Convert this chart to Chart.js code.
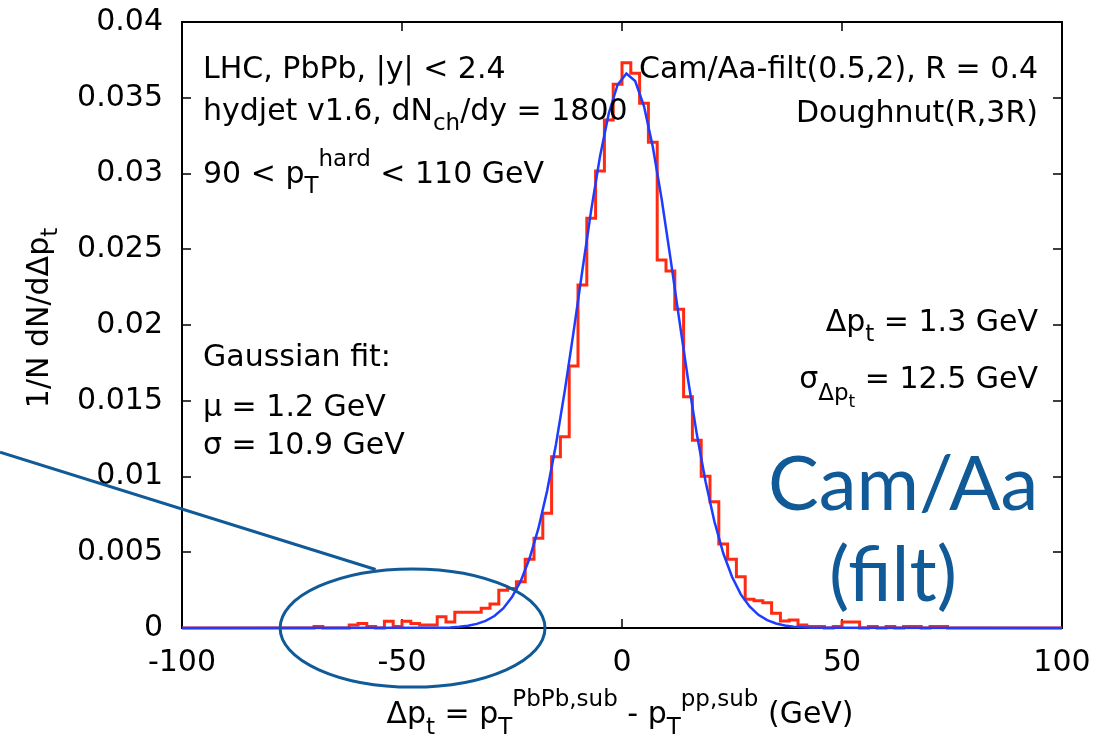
<!DOCTYPE html>
<html>
<head>
<meta charset="utf-8">
<title>Δp_t distribution</title>
<script src="https://cdn.jsdelivr.net/npm/chart.js@4/dist/chart.umd.min.js"></script>
<style>
  html, body { margin: 0; padding: 0; background: #fff; }
  #wrap { width: 1100px; height: 735px; position: relative; }
</style>
</head>
<body>
<div id="wrap"><canvas id="c"></canvas></div>
<script>
// histogram: 2 GeV bins from -100 to 100, normalised 1/N dN/dΔp_t
const binLow = -100;
const binWidth = 2;
const histValues = [
  0, 0, 0, 0, 0, 0, 0, 0, 0, 0,                                                   // -100 .. -80
  0, 0, 0, 0, 0, 0.0001, 0, 0, 0, 0.0002,                                         // -80 .. -60
  0.0003, 0.0001, 0, 0.00045, 0.0001, 0.00045, 0.0003, 0.0002, 0.0002, 0.00075,   // -60 .. -40
  0.0004, 0.00104, 0.00104, 0.00104, 0.0013, 0.00158, 0.0025, 0.0026, 0.00306, 0.00453, // -40 .. -20
  0.00592, 0.00757, 0.01131, 0.01263, 0.01729, 0.02264, 0.02704, 0.03017, 0.03353, 0.03589, // -20 .. 0
  0.03731, 0.03661, 0.03463, 0.03206, 0.02429, 0.02356, 0.02104, 0.01527, 0.01239, 0.01001, // 0 .. 20
  0.00834, 0.00554, 0.00453, 0.00339, 0.0019, 0.0018, 0.00167, 0.00097, 0.00046, 0.00053,   // 20 .. 40
  0.0002, 0.0001, 0.0001, 0, 0.0001, 0.0004, 0.0004, 0, 0.0001, 0,                // 40 .. 60
  0.0001, 0, 0.0001, 0.0001, 0, 0.0001, 0.0001, 0, 0, 0,                          // 60 .. 80
  0, 0, 0, 0, 0, 0, 0, 0, 0, 0                                                    // 80 .. 100
];

// gaussian fit curve, sampled points
const fitX = [-100, -43, -41, -39, -37, -35, -33, -31, -29, -27, -25, -23, -21, -19, -17, -15, -13, -11, -9, -7, -5, -3, -1,
  1, 3, 5, 7, 9, 11, 13, 15, 17, 19, 21, 23, 25, 27, 29, 31, 33, 35, 37, 39, 41, 43, 45, 100];
const fitY = [0, 0.00001, 0.00002, 0.00004, 0.00008, 0.00015, 0.00027, 0.00047, 0.00079, 0.00129, 0.00204, 0.00311, 0.0046,
  0.00657, 0.00908, 0.01213, 0.01567, 0.01956, 0.02362, 0.02758, 0.03113, 0.03398, 0.03586,
  0.0366, 0.0361, 0.03444, 0.03177, 0.02833, 0.02443, 0.02037, 0.01642, 0.0128, 0.00965, 0.00703, 0.00495,
  0.00338, 0.00222, 0.00142, 0.00087, 0.00052, 0.0003, 0.00017, 0.00009, 0.00005, 0.00002, 0.00001, 0];

const xTicks = [-100, -50, 0, 50, 100];
const yTicks = [0, 0.005, 0.01, 0.015, 0.02, 0.025, 0.03, 0.035, 0.04];
const yTickLabels = ['0', '0.005', '0.01', '0.015', '0.02', '0.025', '0.03', '0.035', '0.04'];

const FONT = '"DejaVu Sans"';
const M = 30, S = 23, SS = 17;
const TICK = 9;
const annBlue = '#105a97';

// step points: one per bin left edge, plus the closing right edge
const histPoints = histValues.map((v, i) => ({ x: binLow + i * binWidth, y: v }));
histPoints.push({ x: binLow + histValues.length * binWidth, y: histValues[histValues.length - 1] });
const fitPoints = fitX.map((x, i) => ({ x, y: fitY[i] }));

// draws a run of text pieces: [text, size, dy]
function drawRich(ctx, parts, x, y, align) {
  let w = 0;
  parts.forEach(p => { ctx.font = p[1] + 'px ' + FONT; w += ctx.measureText(p[0]).width; });
  let cx = align === 'right' ? x - w : align === 'center' ? x - w / 2 : x;
  ctx.textAlign = 'left';
  ctx.textBaseline = 'alphabetic';
  parts.forEach(p => {
    ctx.font = p[1] + 'px ' + FONT;
    ctx.fillText(p[0], cx, y + (p[2] || 0));
    cx += ctx.measureText(p[0]).width;
  });
}

const decor = {
  id: 'decor',
  beforeDatasetsDraw(chart) {
    const { ctx, chartArea: a, scales: { x, y } } = chart;
    ctx.save();
    ctx.strokeStyle = '#000';
    ctx.lineWidth = 2;
    ctx.strokeRect(a.left, a.top, a.right - a.left, a.bottom - a.top);
    ctx.lineWidth = 1.5;
    ctx.beginPath();
    xTicks.forEach(v => {
      const px = Math.round(x.getPixelForValue(v));
      ctx.moveTo(px, a.bottom); ctx.lineTo(px, a.bottom - TICK);
      ctx.moveTo(px, a.top); ctx.lineTo(px, a.top + TICK);
    });
    yTicks.forEach(v => {
      const py = Math.round(y.getPixelForValue(v));
      ctx.moveTo(a.left, py); ctx.lineTo(a.left + TICK, py);
      ctx.moveTo(a.right, py); ctx.lineTo(a.right - TICK, py);
    });
    ctx.stroke();
    ctx.restore();
  },
  afterDraw(chart) {
    const { ctx, scales: { x, y } } = chart;
    ctx.save();
    ctx.fillStyle = '#000';

    // axis titles
    drawRich(ctx, [['Δp', M], ['t', S, 11], [' = p', M], ['T', S, 11], ['PbPb,sub', S, -17],
      [' - p', M], ['T', S, 11], ['pp,sub', S, -17], [' (GeV)', M]], 620, 723, 'center');
    ctx.save();
    ctx.translate(37, 318);
    ctx.rotate(-Math.PI / 2);
    drawRich(ctx, [['1/N dN/dΔp', M], ['t', S, 9]], 0, 11, 'center');
    ctx.restore();

    // labels inside the frame
    drawRich(ctx, [['LHC, PbPb, |y| < 2.4', M]], 203, 78, 'left');
    drawRich(ctx, [['hydjet v1.6, dN', M], ['ch', S, 10], ['/dy = 1800', M]], 203, 120, 'left');
    drawRich(ctx, [['90 < p', M], ['T', S, 10], ['hard', S, -17], [' < 110 GeV', M]], 203, 183, 'left');
    drawRich(ctx, [['Gaussian fit:', M]], 203, 366, 'left');
    drawRich(ctx, [['μ = 1.2 GeV', M]], 203, 416, 'left');
    drawRich(ctx, [['σ = 10.9 GeV', M]], 203, 454, 'left');

    drawRich(ctx, [['Cam/Aa-filt(0.5,2), R = 0.4', M]], 1038, 78, 'right');
    drawRich(ctx, [['Doughnut(R,3R)', M]], 1038, 122, 'right');
    drawRich(ctx, [['Δp', M], ['t', S, 10], [' = 1.3 GeV', M]], 1038, 331, 'right');
    drawRich(ctx, [['σ', M], ['Δp', S, 12], ['t', SS, 19], [' = 12.5 GeV', M]], 1038, 388, 'right');

    // highlighted tail
    ctx.strokeStyle = annBlue;
    ctx.lineWidth = 3;
    const cx = x.getPixelForValue(-47.6), cy = y.getPixelForValue(0);
    const rx = x.getPixelForValue(-47.6 + 30.1) - cx;
    const ry = cy - y.getPixelForValue(0.0039);
    ctx.beginPath();
    ctx.ellipse(cx, cy, rx, ry, 0, 0, Math.PI * 2);
    ctx.stroke();
    ctx.beginPath();
    ctx.moveTo(0, y.getPixelForValue(0.0116));
    ctx.lineTo(x.getPixelForValue(-56), y.getPixelForValue(0.00386));
    ctx.stroke();

    // algorithm tag
    ctx.fillStyle = annBlue;
    ctx.font = '76px Lato';
    ctx.textBaseline = 'alphabetic';
    ctx.textAlign = 'left';
    ctx.fillText('Cam/Aa', 768, 510);
    ctx.textAlign = 'center';
    ctx.fillText('(filt)', 893, 601);
    ctx.restore();
  }
};

new Chart(document.getElementById('c'), {
  type: 'line',
  data: {
    datasets: [
      {
        label: 'Gaussian fit',
        data: fitPoints,
        borderColor: '#1e3cff',
        borderWidth: 2.5,
        pointRadius: 0,
        tension: 0,
        fill: false,
        clip: 4
      },
      {
        label: 'Cam/Aa-filt',
        data: histPoints,
        borderColor: '#ff2b10',
        borderWidth: 3,
        pointRadius: 0,
        stepped: 'before',
        fill: false,
        clip: 4
      }
    ]
  },
  options: {
    responsive: true,
    maintainAspectRatio: false,
    animation: false,
    devicePixelRatio: 1,
    layout: { padding: { top: 22, right: 38, left: 0, bottom: 0 } },
    plugins: { legend: { display: false }, tooltip: { enabled: false } },
    scales: {
      x: {
        type: 'linear',
        min: -100,
        max: 100,
        grid: { display: false, drawTicks: false },
        border: { display: false },
        ticks: { color: '#000', font: { family: FONT, size: M }, padding: 17, maxRotation: 0 },
        afterBuildTicks: s => { s.ticks = xTicks.map(v => ({ value: v })); },
        afterFit: s => { s.height = 107; s.paddingLeft = 0; s.paddingRight = 0; }
      },
      y: {
        type: 'linear',
        min: 0,
        max: 0.04,
        grid: { display: false, drawTicks: false },
        border: { display: false },
        ticks: {
          color: '#000',
          font: { family: FONT, size: M },
          padding: 19,
          callback: (v, i) => yTickLabels[i]
        },
        afterBuildTicks: s => { s.ticks = yTicks.map(v => ({ value: v })); },
        afterFit: s => { s.width = 182; s.paddingTop = 0; s.paddingBottom = 0; }
      }
    }
  },
  plugins: [decor]
});
</script>
</body>
</html>
